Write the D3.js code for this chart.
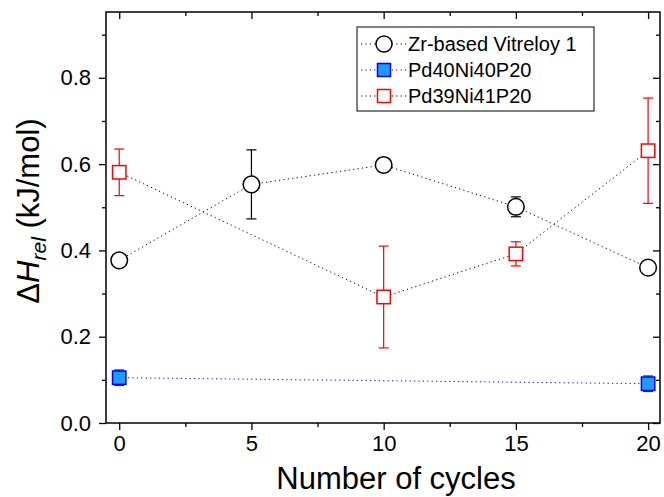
<!DOCTYPE html>
<html><head><meta charset="utf-8">
<script src="https://cdn.jsdelivr.net/npm/d3@7"></script>
<style>body{margin:0;background:#fff}svg{display:block}text{font-family:"Liberation Sans",Arial,sans-serif}</style>
</head><body><svg id="c" width="664" height="497"></svg>
<script>
const zrX = [0, 5, 10, 15, 20];
const zrY = [0.377, 0.553, 0.598, 0.501, 0.360];
const zrE = [0.012, 0.080, 0.016, 0.023, 0.008];
const pd40X = [0, 20];
const pd40Y = [0.105, 0.091];
const pd40E = [0.018, 0.018];
const pd39X = [0, 10, 15, 20];
const pd39Y = [0.581, 0.292, 0.392, 0.631];
const pd39E = [0.054, 0.118, 0.028, 0.122];
const xTicks = [0, 5, 10, 15, 20];
const yTicks = [0.0, 0.2, 0.4, 0.6, 0.8];
const legendLabels = ["Zr-based Vitreloy 1", "Pd40Ni40P20", "Pd39Ni41P20"];

const svg = d3.select("#c");
const L = 106, R = 660, T = 12, B = 423;
const x = d3.scaleLinear().domain([-0.5, 20.45]).range([L, R]);
const y = d3.scaleLinear().domain([0, 0.9525]).range([B, T]);

const minorX = d3.range(-0, 21, 2.5).filter(v => !xTicks.includes(v));
const minorY = d3.range(0.1, 0.95, 0.2);

// axes
const gx = svg.append("g").attr("transform", `translate(0,${B})`)
  .call(d3.axisBottom(x).tickValues(xTicks).tickSize(7).tickPadding(5).tickFormat(d3.format("d")));
const gxm = svg.append("g").attr("transform", `translate(0,${B})`)
  .call(d3.axisBottom(x).tickValues(minorX).tickSize(4).tickFormat(""));
const gxt = svg.append("g").attr("transform", `translate(0,${T})`)
  .call(d3.axisTop(x).tickValues(xTicks).tickSize(-7).tickFormat(""));
const gxtm = svg.append("g").attr("transform", `translate(0,${T})`)
  .call(d3.axisTop(x).tickValues(minorX).tickSize(-4).tickFormat(""));
const gy = svg.append("g").attr("transform", `translate(${L},0)`)
  .call(d3.axisLeft(y).tickValues(yTicks).tickSize(7).tickPadding(8).tickFormat(d3.format(".1f")));
const gym = svg.append("g").attr("transform", `translate(${L},0)`)
  .call(d3.axisLeft(y).tickValues(minorY).tickSize(4).tickFormat(""));
const gyr = svg.append("g").attr("transform", `translate(${R},0)`)
  .call(d3.axisRight(y).tickValues(yTicks).tickSize(-7).tickFormat(""));
const gyrm = svg.append("g").attr("transform", `translate(${R},0)`)
  .call(d3.axisRight(y).tickValues(minorY).tickSize(-4).tickFormat(""));
[gx, gxm, gxt, gxtm, gy, gym, gyr, gyrm].forEach(g => {
  g.select(".domain").remove();
  g.selectAll("line").attr("stroke", "#000").attr("stroke-width", 1.3);
  g.selectAll("text").attr("font-size", 22).attr("fill", "#000")
    .attr("font-family", '"Liberation Sans",Arial,sans-serif');
});
svg.append("rect").attr("x", L).attr("y", T).attr("width", R - L).attr("height", B - T)
  .attr("fill", "none").attr("stroke", "#000").attr("stroke-width", 1.5);

// lines
const line = d3.line().x(d => x(d[0])).y(d => y(d[1]));
function series(xs, ys) { return xs.map((v, i) => [v, ys[i]]); }
svg.append("path").attr("d", line(series(zrX, zrY))).attr("fill", "none")
  .attr("stroke", "#000").attr("stroke-width", 1).attr("stroke-dasharray", "1.2,3.2");
svg.append("path").attr("d", line(series(pd40X, pd40Y))).attr("fill", "none")
  .attr("stroke", "#0000ff").attr("stroke-width", 1).attr("stroke-dasharray", "1.2,3.2");
svg.append("path").attr("d", line(series(pd39X, pd39Y))).attr("fill", "none")
  .attr("stroke", "#000").attr("stroke-width", 1).attr("stroke-dasharray", "1.2,3.2");

// error bars
function errbars(xs, ys, es, color) {
  const g = svg.append("g").attr("stroke", color).attr("stroke-width", 1.2);
  xs.forEach((xv, i) => {
    const cx = x(xv), t = y(ys[i] + es[i]), b = y(ys[i] - es[i]);
    g.append("line").attr("x1", cx).attr("x2", cx).attr("y1", t).attr("y2", b);
    g.append("line").attr("x1", cx - 5).attr("x2", cx + 5).attr("y1", t).attr("y2", t);
    g.append("line").attr("x1", cx - 5).attr("x2", cx + 5).attr("y1", b).attr("y2", b);
  });
}
errbars(zrX, zrY, zrE, "#000");
errbars(pd40X, pd40Y, pd40E, "#333");
errbars(pd39X, pd39Y, pd39E, "#ff0000");

// markers
function circles(xs, ys) {
  xs.forEach((xv, i) => svg.append("circle").attr("cx", x(xv)).attr("cy", y(ys[i])).attr("r", 8.3)
    .attr("fill", "#fff").attr("stroke", "#000").attr("stroke-width", 1.5));
}
function squares(xs, ys, fill, stroke) {
  xs.forEach((xv, i) => svg.append("rect").attr("x", x(xv) - 6.7).attr("y", y(ys[i]) - 6.7)
    .attr("width", 13.4).attr("height", 13.4).attr("fill", fill).attr("stroke", stroke).attr("stroke-width", 1.5));
}
circles(zrX, zrY);
squares(pd40X, pd40Y, "#1e9bff", "#0000ff");
squares(pd39X, pd39Y, "#fff", "#ff0000");

// legend
const lg = svg.append("g");
lg.append("rect").attr("x", 357).attr("y", 27).attr("width", 237).attr("height", 84)
  .attr("fill", "#fff").attr("stroke", "#000").attr("stroke-width", 1);
const rowsY = [44, 70, 96];
const lineCol = ["#000", "#0000ff", "#000"];
rowsY.forEach((ry, i) => {
  lg.append("line").attr("x1", 361).attr("x2", 407).attr("y1", ry).attr("y2", ry)
    .attr("stroke", lineCol[i]).attr("stroke-width", 1).attr("stroke-dasharray", "1.2,3.2");
  if (i === 0) lg.append("circle").attr("cx", 384).attr("cy", ry).attr("r", 8)
    .attr("fill", "#fff").attr("stroke", "#000").attr("stroke-width", 1.5);
  else lg.append("rect").attr("x", 377.5).attr("y", ry - 6.5).attr("width", 13).attr("height", 13)
    .attr("fill", i === 1 ? "#1e9bff" : "#fff").attr("stroke", i === 1 ? "#0000ff" : "#ff0000").attr("stroke-width", 1.5);
  lg.append("text").attr("x", 408).attr("y", ry + 7).attr("font-size", 20).attr("fill", "#000")
    .text(legendLabels[i]);
});

// axis titles
svg.append("text").attr("x", 396).attr("y", 489).attr("text-anchor", "middle")
  .attr("font-size", 31).attr("fill", "#000").text("Number of cycles");
const yt = svg.append("text").attr("transform", `translate(39,211) rotate(-90)`)
  .attr("text-anchor", "middle").attr("font-size", 31).attr("fill", "#000");
yt.append("tspan").text("\u0394");
yt.append("tspan").attr("font-style", "italic").text("H");
yt.append("tspan").attr("font-style", "italic").attr("font-size", 21).attr("dy", 7).text("rel");
yt.append("tspan").attr("dy", -7).text(" (kJ/mol)");
</script></body></html>
